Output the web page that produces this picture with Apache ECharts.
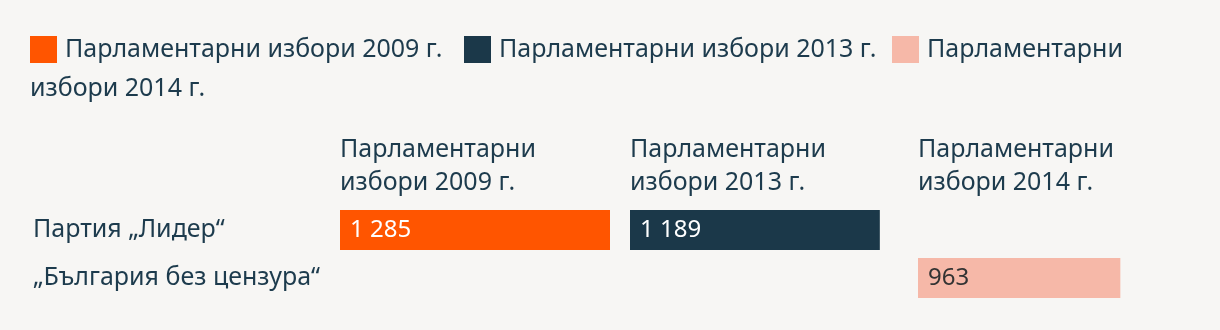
<!DOCTYPE html>
<html>
<head>
<meta charset="utf-8">
<script src="https://cdn.jsdelivr.net/npm/echarts@6/dist/echarts.min.js"></script>
<style>
html, body { margin: 0; padding: 0; background: #f7f6f4; }
#chart { width: 1220px; height: 330px; }
</style>
</head>
<body>
<div id="chart"></div>
<script>
const categories = ['Партия „Лидер“', '„България без цензура“'];
const seriesNames = ['Парламентарни избори 2009 г.', 'Парламентарни избори 2013 г.', 'Парламентарни избори 2014 г.'];
const panelTitles = ['Парламентарни\nизбори 2009 г.', 'Парламентарни\nизбори 2013 г.', 'Парламентарни\nизбори 2014 г.'];
const values2009 = [1285, null];
const values2013 = [1189, null];
const values2014 = [null, 963];
const xMax = 1285;

const FONT = 'Noto Sans';
const TEXT = '#1d3b4d';
const colors = ['#ff5500', '#1b3849', '#f6b8a8'];
const labelColors = ['#ffffff', '#ffffff', '#333333'];
const gridLefts = [340, 630, 918];
const legendLefts = [30, 464, 892];
const allValues = [values2009, values2013, values2014];

const fmt = v => String(v).replace(/\B(?=(\d{3})+(?!\d))/g, ' ');

const chart = echarts.init(document.getElementById('chart'));
chart.setOption({
  backgroundColor: '#f7f6f4',
  textStyle: { fontFamily: FONT },
  animation: false,
  legend: seriesNames.map((n, i) => ({
    data: [n],
    left: legendLefts[i],
    top: 36,
    itemWidth: 27,
    itemHeight: 27,
    icon: 'rect',
    padding: 0,
    selectedMode: false,
    formatter: name => (i === 2 ? 'Парламентарни' : name),
    textStyle: { fontFamily: FONT, fontSize: 25, color: TEXT, padding: [0, 0, 0, 3] }
  })),
  graphic: [{
    type: 'text',
    left: 30,
    top: 76,
    style: { text: 'избори 2014 г.', font: '25px "Noto Sans"', fill: TEXT }
  }],
  title: panelTitles.map((t, i) => ({
    text: t,
    left: gridLefts[i],
    top: 133,
    padding: 0,
    textStyle: { fontFamily: FONT, fontSize: 25, fontWeight: 'normal', color: TEXT, lineHeight: 33 }
  })),
  grid: gridLefts.map(l => ({ left: l, width: 270, top: 206, height: 96 })),
  xAxis: gridLefts.map((l, i) => ({
    type: 'value', gridIndex: i, min: 0, max: xMax, show: false
  })),
  yAxis: gridLefts.map((l, i) => ({
    type: 'category', gridIndex: i, data: categories, inverse: true,
    axisLine: { show: false }, axisTick: { show: false }, splitLine: { show: false },
    axisLabel: i === 0 ? {
      show: true, align: 'left', margin: 307, fontFamily: FONT, fontSize: 25, color: TEXT,
      padding: [0, 0, 6, 0]
    } : { show: false }
  })),
  series: allValues.map((vals, i) => ({
    type: 'bar',
    name: seriesNames[i],
    xAxisIndex: i,
    yAxisIndex: i,
    data: vals,
    barWidth: 40,
    itemStyle: { color: colors[i] },
    label: {
      show: true, position: 'insideLeft', distance: 10,
      formatter: p => fmt(p.value),
      fontFamily: FONT, fontSize: 24, color: labelColors[i]
    }
  }))
});
</script>
</body>
</html>
